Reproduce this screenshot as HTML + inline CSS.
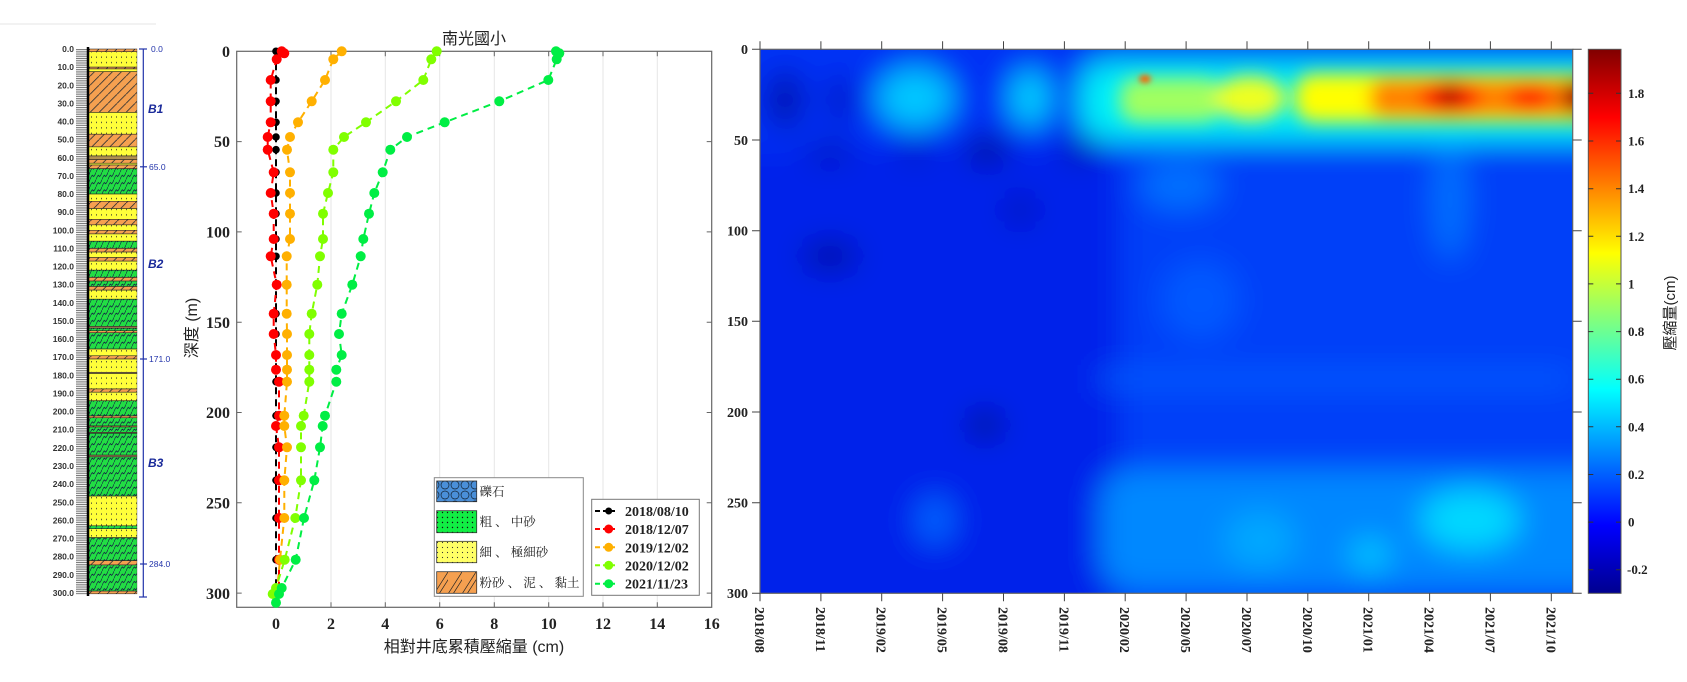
<!DOCTYPE html>
<html><head><meta charset="utf-8"><style>
html,body{margin:0;padding:0;background:#fff;}
svg{display:block;}
.tk{font-family:"Liberation Serif",serif;font-weight:bold;fill:#222;}
.lb{font-family:"Liberation Sans","Noto Sans CJK TC",sans-serif;fill:#222;}
</style></head><body>
<svg width="1687" height="682" viewBox="0 0 1687 682" xmlns="http://www.w3.org/2000/svg">
<defs>
<pattern id="pY" width="5" height="3" patternUnits="userSpaceOnUse"><rect width="5" height="3" fill="#ffff3a"/><circle cx="1.5" cy="1.5" r="0.45" fill="#333"/></pattern>
<pattern id="pG" width="6" height="4" patternUnits="userSpaceOnUse"><rect width="6" height="4" fill="#22dd44"/><path d="M0 4 Q2 1 3 2 T6 0" stroke="#114" stroke-width="0.5" fill="none"/></pattern>
<pattern id="pO" width="9" height="5" patternUnits="userSpaceOnUse"><rect width="9" height="5" fill="#f5a050"/><path d="M0 5 L9 0" stroke="#333" stroke-width="0.6"/></pattern>
<pattern id="pR" width="14" height="1" patternUnits="userSpaceOnUse"><rect width="14" height="1" fill="#fff"/><rect width="14" height="0.45" fill="#666"/></pattern>
<pattern id="lgB" width="10" height="10" patternUnits="userSpaceOnUse"><rect width="10" height="10" fill="#4a8fd8"/><circle cx="5" cy="5" r="4" fill="none" stroke="#123" stroke-width="0.7"/></pattern>
<pattern id="lgG" width="5" height="5" patternUnits="userSpaceOnUse"><rect width="5" height="5" fill="#11ee44"/><circle cx="2.5" cy="2.5" r="0.7" fill="#111"/></pattern>
<pattern id="lgY" width="5" height="5" patternUnits="userSpaceOnUse"><rect width="5" height="5" fill="#ffff66"/><circle cx="2.5" cy="2.5" r="0.6" fill="#333"/></pattern>
<pattern id="lgO" width="14" height="22" patternUnits="userSpaceOnUse"><rect width="14" height="22" fill="#f5a050"/><path d="M0 22 L14 0" stroke="#222" stroke-width="0.7"/><path d="M5 22 L19 0" stroke="#222" stroke-width="0.7"/></pattern>
<linearGradient id="jet" x1="0" y1="0" x2="0" y2="1">
<stop offset="0" stop-color="#800000"/><stop offset="0.125" stop-color="#ff0000"/><stop offset="0.375" stop-color="#ffff00"/><stop offset="0.625" stop-color="#00ffff"/><stop offset="0.875" stop-color="#0000ff"/><stop offset="1" stop-color="#00008f"/>
</linearGradient>
<clipPath id="hmc"><rect x="760" y="49.3" width="812.7" height="544"/></clipPath>
<filter id="bl" filterUnits="userSpaceOnUse" x="680" y="0" width="1000" height="682"><feGaussianBlur stdDeviation="15"/></filter>
<filter id="bl3" filterUnits="userSpaceOnUse" x="680" y="0" width="1000" height="682"><feGaussianBlur stdDeviation="9"/></filter>
<filter id="bl2" filterUnits="userSpaceOnUse" x="1100" y="50" width="100" height="80"><feGaussianBlur stdDeviation="3"/></filter>
</defs>

<line x1="0" y1="24" x2="156" y2="24" stroke="#e4e4e4" stroke-width="1"/>

<!-- Lithology column -->
<g transform="translate(0,49) scale(1,1.813)">
<rect x="76" y="0" width="12" height="301" fill="url(#pR)"/>
<g stroke="#222" stroke-width="0.3">
<rect x="88" y="0" width="49" height="1.5" fill="url(#pO)"/>
<rect x="88" y="1.5" width="49" height="8.5" fill="url(#pY)"/>
<rect x="88" y="10" width="49" height="1" fill="url(#pO)"/>
<rect x="88" y="11" width="49" height="1.5" fill="url(#pY)"/>
<rect x="88" y="12.5" width="49" height="22.5" fill="url(#pO)"/>
<rect x="88" y="35" width="49" height="12" fill="url(#pY)"/>
<rect x="88" y="47" width="49" height="7" fill="url(#pO)"/>
<rect x="88" y="54" width="49" height="5" fill="url(#pY)"/>
<rect x="88" y="59" width="49" height="2" fill="#b09050"/>
<rect x="88" y="61" width="49" height="2" fill="url(#pO)"/>
<rect x="88" y="63" width="49" height="1" fill="url(#pY)"/>
<rect x="88" y="64" width="49" height="2" fill="url(#pO)"/>
<rect x="88" y="66" width="49" height="14" fill="url(#pG)"/>
<rect x="88" y="80" width="49" height="4" fill="url(#pY)"/>
<rect x="88" y="84" width="49" height="4" fill="url(#pO)"/>
<rect x="88" y="88" width="49" height="6" fill="url(#pY)"/>
<rect x="88" y="94" width="49" height="3" fill="url(#pO)"/>
<rect x="88" y="97" width="49" height="3" fill="url(#pY)"/>
<rect x="88" y="100" width="49" height="2" fill="url(#pO)"/>
<rect x="88" y="102" width="49" height="4" fill="url(#pY)"/>
<rect x="88" y="106" width="49" height="4" fill="url(#pG)"/>
<rect x="88" y="110" width="49" height="2" fill="url(#pO)"/>
<rect x="88" y="112" width="49" height="3" fill="url(#pY)"/>
<rect x="88" y="115" width="49" height="2" fill="url(#pO)"/>
<rect x="88" y="117" width="49" height="5" fill="url(#pY)"/>
<rect x="88" y="122" width="49" height="4" fill="url(#pG)"/>
<rect x="88" y="126" width="49" height="2" fill="url(#pO)"/>
<rect x="88" y="128" width="49" height="3" fill="url(#pG)"/>
<rect x="88" y="131" width="49" height="2" fill="url(#pO)"/>
<rect x="88" y="133" width="49" height="5" fill="url(#pY)"/>
<rect x="88" y="138" width="49" height="15" fill="url(#pG)"/>
<rect x="88" y="153" width="49" height="1" fill="#a08050"/>
<rect x="88" y="154" width="49" height="1.4" fill="url(#pG)"/>
<rect x="88" y="155.4" width="49" height="1.1" fill="url(#pO)"/>
<rect x="88" y="156.5" width="49" height="9" fill="url(#pG)"/>
<rect x="88" y="165.5" width="49" height="3.7" fill="url(#pY)"/>
<rect x="88" y="169.2" width="49" height="1.8" fill="url(#pO)"/>
<rect x="88" y="171" width="49" height="7.3" fill="url(#pY)"/>
<rect x="88" y="178.3" width="49" height="0.7" fill="#a08050"/>
<rect x="88" y="179" width="49" height="8.5" fill="url(#pY)"/>
<rect x="88" y="187.5" width="49" height="1.8" fill="url(#pO)"/>
<rect x="88" y="189.3" width="49" height="4.7" fill="url(#pY)"/>
<rect x="88" y="194" width="49" height="8.4" fill="url(#pG)"/>
<rect x="88" y="202.4" width="49" height="1" fill="url(#pO)"/>
<rect x="88" y="203.4" width="49" height="4.5" fill="url(#pG)"/>
<rect x="88" y="207.9" width="49" height="0.6" fill="url(#pO)"/>
<rect x="88" y="208.5" width="49" height="2.9" fill="url(#pG)"/>
<rect x="88" y="211.4" width="49" height="0.6" fill="#806040"/>
<rect x="88" y="212" width="49" height="12" fill="url(#pG)"/>
<rect x="88" y="224" width="49" height="1" fill="#a08050"/>
<rect x="88" y="225" width="49" height="21.6" fill="url(#pG)"/>
<rect x="88" y="246.6" width="49" height="16.4" fill="url(#pY)"/>
<rect x="88" y="263" width="49" height="1.6" fill="url(#pG)"/>
<rect x="88" y="264.6" width="49" height="4.9" fill="url(#pY)"/>
<rect x="88" y="269.5" width="49" height="12.7" fill="url(#pG)"/>
<rect x="88" y="282.2" width="49" height="2.4" fill="url(#pO)"/>
<rect x="88" y="284.6" width="49" height="14.4" fill="url(#pG)"/>
<rect x="88" y="299" width="49" height="1.5" fill="url(#pO)"/>
</g>
</g>
<line x1="88" y1="47" x2="88" y2="596" stroke="#000" stroke-width="2.5"/>
<g class="tk" style="font-family:'Liberation Sans',sans-serif;font-size:8.5px;fill:#333" text-anchor="end">
<text x="74" y="52">0.0</text><text x="74" y="70">10.0</text><text x="74" y="88.3">20.0</text><text x="74" y="106.4">30.0</text><text x="74" y="124.5">40.0</text><text x="74" y="142.7">50.0</text><text x="74" y="160.8">60.0</text><text x="74" y="178.9">70.0</text><text x="74" y="197">80.0</text><text x="74" y="215.2">90.0</text><text x="74" y="233.3">100.0</text><text x="74" y="251.4">110.0</text><text x="74" y="269.6">120.0</text><text x="74" y="287.7">130.0</text><text x="74" y="305.8">140.0</text><text x="74" y="323.9">150.0</text><text x="74" y="342.1">160.0</text><text x="74" y="360.2">170.0</text><text x="74" y="378.3">180.0</text><text x="74" y="396.5">190.0</text><text x="74" y="414.6">200.0</text><text x="74" y="432.7">210.0</text><text x="74" y="450.9">220.0</text><text x="74" y="469">230.0</text><text x="74" y="487.1">240.0</text><text x="74" y="505.3">250.0</text><text x="74" y="523.4">260.0</text><text x="74" y="541.5">270.0</text><text x="74" y="559.6">280.0</text><text x="74" y="577.8">290.0</text><text x="74" y="595.9">300.0</text>
</g>
<g stroke="#2233aa" stroke-width="1.2">
<line x1="143.3" y1="49" x2="143.3" y2="597"/>
<line x1="139" y1="49" x2="147" y2="49"/><line x1="140" y1="166.8" x2="147" y2="166.8"/><line x1="140" y1="359" x2="147" y2="359"/><line x1="140" y1="564" x2="147" y2="564"/><line x1="139" y1="597" x2="147" y2="597"/>
</g>
<g style="font-family:'Liberation Sans',sans-serif;font-size:8.5px;fill:#2233aa">
<text x="151" y="52">0.0</text><text x="149" y="169.8">65.0</text><text x="149" y="362">171.0</text><text x="149" y="567">284.0</text>
</g>
<g style="font-family:'Liberation Sans',sans-serif;font-size:12px;font-weight:bold;font-style:italic;fill:#1a2a9a">
<text x="148" y="113">B1</text><text x="148" y="268">B2</text><text x="148" y="467">B3</text>
</g>

<!-- Left chart -->
<g stroke="#e6e6e6" stroke-width="1">
<line x1="276" y1="51.3" x2="276" y2="607.3"/><line x1="331" y1="51.3" x2="331" y2="607.3"/><line x1="385.3" y1="51.3" x2="385.3" y2="607.3"/><line x1="439.7" y1="51.3" x2="439.7" y2="607.3"/><line x1="494.3" y1="51.3" x2="494.3" y2="607.3"/><line x1="548.7" y1="51.3" x2="548.7" y2="607.3"/><line x1="603" y1="51.3" x2="603" y2="607.3"/><line x1="657.3" y1="51.3" x2="657.3" y2="607.3"/>
</g>
<rect x="236.7" y="51.3" width="475" height="556" fill="none" stroke="#666" stroke-width="1.2"/>
<g stroke="#666" stroke-width="1">
<path d="M276 607.3v-5M331 607.3v-5M385.3 607.3v-5M439.7 607.3v-5M494.3 607.3v-5M548.7 607.3v-5M603 607.3v-5M657.3 607.3v-5M276 51.3v5M331 51.3v5M385.3 51.3v5M439.7 51.3v5M494.3 51.3v5M548.7 51.3v5M603 51.3v5M657.3 51.3v5"/>
<path d="M236.7 141.6h5M236.7 231.9h5M236.7 322.2h5M236.7 412.5h5M236.7 502.8h5M236.7 593.1h5M711.7 141.6h-5M711.7 231.9h-5M711.7 322.2h-5M711.7 412.5h-5M711.7 502.8h-5M711.7 593.1h-5"/>
</g>
<g class="tk" style="font-size:16px" text-anchor="end">
<text x="230" y="57">0</text><text x="230" y="147">50</text><text x="230" y="237.5">100</text><text x="230" y="328">150</text><text x="230" y="418">200</text><text x="230" y="508.5">250</text><text x="230" y="599">300</text>
</g>
<g class="tk" style="font-size:16px" text-anchor="middle">
<text x="276" y="629">0</text><text x="331" y="629">2</text><text x="385.3" y="629">4</text><text x="439.7" y="629">6</text><text x="494.3" y="629">8</text><text x="548.7" y="629">10</text><text x="603" y="629">12</text><text x="657.3" y="629">14</text><text x="711.7" y="629">16</text>
</g>
<text class="lb" x="474" y="44" text-anchor="middle" style="font-size:16px">南光國小</text>
<text class="lb" x="474" y="652" text-anchor="middle" style="font-size:16px">相對井底累積壓縮量 (cm)</text>
<text class="lb" transform="translate(197,328) rotate(-90)" text-anchor="middle" style="font-size:16px">深度 (m)</text>

<g fill="none" stroke-width="2" stroke-dasharray="7,5">
<polyline stroke="#000" points="276,51.3 276,59.3 276,80 276,101.3 276,122.3 276,137 276,149.7 276,172.3 276,193 276,213.7 276,239 276,256.3 276,284.7 276,313.7 276,334 276,355 276,369.7 276,381.7 276,415.7 276,426 276,447.3 276,480.3 276,518 276,559.7 276,594 276,602.7"/>
<polyline stroke="#ff0000" points="281.7,51.3 284.3,53.3 276.7,59.3 270.7,80 270.7,101.3 270.7,122.3 267.7,137 267.7,149.7 273.7,172.3 270.7,193 273.7,213.7 273.7,239 270.7,256.3 276.7,284.7 273.7,313.7 273.7,334 276,355 276,369.7 279,381.7 279,415.7 276,426 279,447.3 279,480.3 279,518 279,559.7 279,594"/>
<polyline stroke="#ffb000" points="341.7,51.3 333.3,59.3 325,80 311.7,101.3 298,122.3 290,137 287,149.7 290,172.3 290,193 290,213.7 290,239 286.7,256.3 286.7,284.7 286.7,313.7 287,334 287,355 287,369.7 287,381.7 284.3,415.7 284.3,426 287,447.3 284.3,480.3 284.3,518 280,559.7 276.7,594"/>
<polyline stroke="#80ff00" points="436.7,51.3 431.3,59.3 423.3,80 396,101.3 366,122.3 344,137 333.3,149.7 333.3,172.3 328,193 323,213.7 323,239 320,256.3 317.3,284.7 311.7,313.7 309.3,334 309.3,355 309.3,369.7 309.3,381.7 303.7,415.7 301,426 301,447.3 301,480.3 295.3,518 284.7,559.7 276,588 272.7,594"/>
<polyline stroke="#00ee44" points="556,51.3 559.3,53.3 556.7,59.3 548.3,80 499.3,101.3 444.7,122.3 407,137 390.3,149.7 382.7,172.3 374.3,193 369,213.7 363.3,239 360.7,256.3 352.3,284.7 341.7,313.7 339,334 341.7,355 336.3,369.7 336.3,381.7 325,415.7 322.7,426 320,447.3 314.3,480.3 304,518 295.7,559.7 281.7,588 279,594 276,602.7"/>
</g>
<g fill="#000">
<circle cx="276" cy="51.3" r="3.8"/><circle cx="276" cy="59.3" r="3.8"/><circle cx="276" cy="80" r="3.8"/><circle cx="276" cy="101.3" r="3.8"/><circle cx="276" cy="122.3" r="3.8"/><circle cx="276" cy="137" r="3.8"/><circle cx="276" cy="149.7" r="3.8"/><circle cx="276" cy="172.3" r="3.8"/><circle cx="276" cy="193" r="3.8"/><circle cx="276" cy="213.7" r="3.8"/><circle cx="276" cy="239" r="3.8"/><circle cx="276" cy="256.3" r="3.8"/><circle cx="276" cy="284.7" r="3.8"/><circle cx="276" cy="313.7" r="3.8"/><circle cx="276" cy="334" r="3.8"/><circle cx="276" cy="355" r="3.8"/><circle cx="276" cy="369.7" r="3.8"/><circle cx="276" cy="381.7" r="3.8"/><circle cx="276" cy="415.7" r="3.8"/><circle cx="276" cy="426" r="3.8"/><circle cx="276" cy="447.3" r="3.8"/><circle cx="276" cy="480.3" r="3.8"/><circle cx="276" cy="518" r="3.8"/><circle cx="276" cy="559.7" r="3.8"/><circle cx="276" cy="594" r="3.8"/>
</g>
<g fill="#ff0000">
<circle cx="281.7" cy="51.3" r="5"/><circle cx="284.3" cy="53.3" r="5"/><circle cx="276.7" cy="59.3" r="5"/><circle cx="270.7" cy="80" r="5"/><circle cx="270.7" cy="101.3" r="5"/><circle cx="270.7" cy="122.3" r="5"/><circle cx="267.7" cy="137" r="5"/><circle cx="267.7" cy="149.7" r="5"/><circle cx="273.7" cy="172.3" r="5"/><circle cx="270.7" cy="193" r="5"/><circle cx="273.7" cy="213.7" r="5"/><circle cx="273.7" cy="239" r="5"/><circle cx="270.7" cy="256.3" r="5"/><circle cx="276.7" cy="284.7" r="5"/><circle cx="273.7" cy="313.7" r="5"/><circle cx="273.7" cy="334" r="5"/><circle cx="276" cy="355" r="5"/><circle cx="276" cy="369.7" r="5"/><circle cx="279" cy="381.7" r="5"/><circle cx="279" cy="415.7" r="5"/><circle cx="276" cy="426" r="5"/><circle cx="279" cy="447.3" r="5"/><circle cx="279" cy="480.3" r="5"/><circle cx="279" cy="518" r="5"/><circle cx="279" cy="559.7" r="5"/>
</g>
<g fill="#ffb000">
<circle cx="341.7" cy="51.3" r="5"/><circle cx="333.3" cy="59.3" r="5"/><circle cx="325" cy="80" r="5"/><circle cx="311.7" cy="101.3" r="5"/><circle cx="298" cy="122.3" r="5"/><circle cx="290" cy="137" r="5"/><circle cx="287" cy="149.7" r="5"/><circle cx="290" cy="172.3" r="5"/><circle cx="290" cy="193" r="5"/><circle cx="290" cy="213.7" r="5"/><circle cx="290" cy="239" r="5"/><circle cx="286.7" cy="256.3" r="5"/><circle cx="286.7" cy="284.7" r="5"/><circle cx="286.7" cy="313.7" r="5"/><circle cx="287" cy="334" r="5"/><circle cx="287" cy="355" r="5"/><circle cx="287" cy="369.7" r="5"/><circle cx="287" cy="381.7" r="5"/><circle cx="284.3" cy="415.7" r="5"/><circle cx="284.3" cy="426" r="5"/><circle cx="287" cy="447.3" r="5"/><circle cx="284.3" cy="480.3" r="5"/><circle cx="284.3" cy="518" r="5"/><circle cx="280" cy="559.7" r="5"/>
</g>
<g fill="#80ff00">
<circle cx="436.7" cy="51.3" r="5"/><circle cx="431.3" cy="59.3" r="5"/><circle cx="423.3" cy="80" r="5"/><circle cx="396" cy="101.3" r="5"/><circle cx="366" cy="122.3" r="5"/><circle cx="344" cy="137" r="5"/><circle cx="333.3" cy="149.7" r="5"/><circle cx="333.3" cy="172.3" r="5"/><circle cx="328" cy="193" r="5"/><circle cx="323" cy="213.7" r="5"/><circle cx="323" cy="239" r="5"/><circle cx="320" cy="256.3" r="5"/><circle cx="317.3" cy="284.7" r="5"/><circle cx="311.7" cy="313.7" r="5"/><circle cx="309.3" cy="334" r="5"/><circle cx="309.3" cy="355" r="5"/><circle cx="309.3" cy="369.7" r="5"/><circle cx="309.3" cy="381.7" r="5"/><circle cx="303.7" cy="415.7" r="5"/><circle cx="301" cy="426" r="5"/><circle cx="301" cy="447.3" r="5"/><circle cx="301" cy="480.3" r="5"/><circle cx="295.3" cy="518" r="5"/><circle cx="284.7" cy="559.7" r="5"/><circle cx="276" cy="588" r="5"/><circle cx="272.7" cy="594" r="5"/>
</g>
<g fill="#00ee44">
<circle cx="556" cy="51.3" r="5"/><circle cx="559.3" cy="53.3" r="5"/><circle cx="556.7" cy="59.3" r="5"/><circle cx="548.3" cy="80" r="5"/><circle cx="499.3" cy="101.3" r="5"/><circle cx="444.7" cy="122.3" r="5"/><circle cx="407" cy="137" r="5"/><circle cx="390.3" cy="149.7" r="5"/><circle cx="382.7" cy="172.3" r="5"/><circle cx="374.3" cy="193" r="5"/><circle cx="369" cy="213.7" r="5"/><circle cx="363.3" cy="239" r="5"/><circle cx="360.7" cy="256.3" r="5"/><circle cx="352.3" cy="284.7" r="5"/><circle cx="341.7" cy="313.7" r="5"/><circle cx="339" cy="334" r="5"/><circle cx="341.7" cy="355" r="5"/><circle cx="336.3" cy="369.7" r="5"/><circle cx="336.3" cy="381.7" r="5"/><circle cx="325" cy="415.7" r="5"/><circle cx="322.7" cy="426" r="5"/><circle cx="320" cy="447.3" r="5"/><circle cx="314.3" cy="480.3" r="5"/><circle cx="304" cy="518" r="5"/><circle cx="295.7" cy="559.7" r="5"/><circle cx="281.7" cy="588" r="5"/><circle cx="279" cy="594" r="5"/><circle cx="276" cy="602.7" r="5"/>
</g>

<!-- Lithology legend -->
<rect x="434.3" y="477.7" width="149" height="118.6" fill="#fff" stroke="#888" stroke-width="1"/>
<rect x="436.7" y="481" width="40" height="20.7" fill="url(#lgB)" stroke="#333" stroke-width="0.8"/>
<rect x="436.7" y="510.7" width="40" height="22" fill="url(#lgG)" stroke="#333" stroke-width="0.8"/>
<rect x="436.7" y="541.3" width="40" height="21.4" fill="url(#lgY)" stroke="#333" stroke-width="0.8"/>
<rect x="436.7" y="571.7" width="40" height="21.6" fill="url(#lgO)" stroke="#333" stroke-width="0.8"/>
<g style="font-family:'Liberation Serif','Noto Serif CJK SC',serif;font-size:12.5px;fill:#222">
<text x="479.5" y="496">礫石</text><text x="479.5" y="526">粗 、 中砂</text><text x="479.5" y="556.5">細 、 極細砂</text><text x="479.5" y="587">粉砂 、 泥 、 黏土</text>
</g>

<!-- Date legend -->
<rect x="591.7" y="499.3" width="107.6" height="96" fill="#fff" stroke="#777" stroke-width="1"/>
<g stroke-width="2" stroke-dasharray="5,3">
<line x1="595" y1="511" x2="615" y2="511" stroke="#000"/><line x1="595" y1="529" x2="615" y2="529" stroke="#f00"/><line x1="595" y1="547.3" x2="615" y2="547.3" stroke="#ffb000"/><line x1="595" y1="565.3" x2="615" y2="565.3" stroke="#80ff00"/><line x1="595" y1="583.7" x2="615" y2="583.7" stroke="#00ee44"/>
</g>
<circle cx="608.7" cy="511" r="3.5" fill="#000"/><circle cx="608.7" cy="529" r="4.5" fill="#f00"/><circle cx="608.7" cy="547.3" r="4.5" fill="#ffb000"/><circle cx="608.7" cy="565.3" r="4.5" fill="#80ff00"/><circle cx="608.7" cy="583.7" r="4.5" fill="#00ee44"/>
<g class="tk" style="font-size:14px">
<text x="625" y="516">2018/08/10</text><text x="625" y="534">2018/12/07</text><text x="625" y="552.3">2019/12/02</text><text x="625" y="570.3">2020/12/02</text><text x="625" y="588.7">2021/11/23</text>
</g>

<!-- Heatmap -->
<g clip-path="url(#hmc)">
<g filter="url(#bl)">
<rect x="700" y="0" width="960" height="682" fill="#0030f5"/>
<rect x="700" y="150" width="420" height="500" fill="#0020ea"/>
<rect x="1120" y="150" width="540" height="500" fill="#0040f8"/>
<ellipse cx="785" cy="100" rx="18" ry="30" fill="#0010b0"/>
<ellipse cx="840" cy="100" rx="14" ry="25" fill="#0018c8"/>
<ellipse cx="915" cy="98" rx="38" ry="30" fill="#00c8ff"/>
<ellipse cx="1030" cy="98" rx="20" ry="28" fill="#00d0ff"/>
<rect x="1080" y="62" width="600" height="78" rx="25" fill="#00f0f8"/>
<ellipse cx="830" cy="152" rx="25" ry="10" fill="#0008b8"/>
<ellipse cx="915" cy="152" rx="20" ry="9" fill="#0008c0"/>
<ellipse cx="987" cy="150" rx="22" ry="12" fill="#000080"/>
<ellipse cx="1080" cy="150" rx="20" ry="12" fill="#0008b0"/>
<ellipse cx="830" cy="256" rx="28" ry="14" fill="#000aa0"/>
<ellipse cx="1020" cy="210" rx="16" ry="14" fill="#0008b8"/>
<ellipse cx="985" cy="425" rx="16" ry="12" fill="#000070"/>
<ellipse cx="1180" cy="185" rx="40" ry="25" fill="#0070ff"/>
<ellipse cx="1450" cy="200" rx="18" ry="60" fill="#0070ff"/>
<ellipse cx="1200" cy="300" rx="40" ry="40" fill="#0058ff"/>
<rect x="1100" y="372" width="470" height="14" fill="#0060ff"/>
<rect x="1100" y="470" width="560" height="120" rx="30" fill="#0088ff"/>
<ellipse cx="1470" cy="520" rx="50" ry="30" fill="#00d8ff"/>
<ellipse cx="1370" cy="555" rx="20" ry="16" fill="#00c8ff"/>
<ellipse cx="1260" cy="540" rx="35" ry="28" fill="#00a8ff"/>
<ellipse cx="935" cy="520" rx="20" ry="25" fill="#0060ff"/>
<rect x="700" y="0" width="960" height="58" fill="#0030f5"/>
</g>
<g filter="url(#bl3)">
<rect x="1120" y="78" width="100" height="44" rx="16" fill="#a0ff60"/>
<ellipse cx="1250" cy="98" rx="36" ry="22" fill="#eeff20"/>
<rect x="1295" y="74" width="400" height="48" rx="18" fill="#ffff00"/>
<rect x="1370" y="80" width="320" height="36" rx="14" fill="#ff8000"/>
<ellipse cx="1450" cy="97" rx="30" ry="18" fill="#ff1000"/>
<ellipse cx="1450" cy="96" rx="10" ry="10" fill="#900000"/>
<ellipse cx="1530" cy="97" rx="22" ry="14" fill="#ff2000"/>
<ellipse cx="1580" cy="97" rx="18" ry="18" fill="#a00000"/>
</g>
<ellipse cx="1145" cy="79" rx="6" ry="4" fill="#ff6000" filter="url(#bl2)"/>
</g>
<rect x="760" y="49.3" width="812.7" height="544" fill="none" stroke="#666" stroke-width="1.2"/>
<g stroke="#444" stroke-width="1">
<path d="M760 593.3v8M820.9 593.3v8M881.7 593.3v8M942.6 593.3v8M1003.5 593.3v8M1064.4 593.3v8M1125.2 593.3v8M1186.1 593.3v8M1247 593.3v8M1307.8 593.3v8M1368.7 593.3v8M1429.6 593.3v8M1490.4 593.3v8M1551.3 593.3v8"/>
<path d="M760 49.3v-8M820.9 49.3v-8M881.7 49.3v-8M942.6 49.3v-8M1003.5 49.3v-8M1064.4 49.3v-8M1125.2 49.3v-8M1186.1 49.3v-8M1247 49.3v-8M1307.8 49.3v-8M1368.7 49.3v-8M1429.6 49.3v-8M1490.4 49.3v-8M1551.3 49.3v-8"/>
<path d="M760 49.3h-8M760 140h-8M760 230.7h-8M760 321.3h-8M760 412h-8M760 502.7h-8M760 593.3h-8"/>
<path d="M1572.7 49.3h9M1572.7 140h9M1572.7 230.7h9M1572.7 321.3h9M1572.7 412h9M1572.7 502.7h9M1572.7 593.3h9"/>
</g>
<g class="tk" style="font-size:14px" text-anchor="end">
<text x="748" y="54">0</text><text x="748" y="145">50</text><text x="748" y="235.5">100</text><text x="748" y="326">150</text><text x="748" y="417">200</text><text x="748" y="507.5">250</text><text x="748" y="598">300</text>
</g>
<g class="tk" style="font-size:14px">
<text transform="translate(755,607) rotate(90)">2018/08</text>
<text transform="translate(815.9,607) rotate(90)">2018/11</text>
<text transform="translate(876.7,607) rotate(90)">2019/02</text>
<text transform="translate(937.6,607) rotate(90)">2019/05</text>
<text transform="translate(998.5,607) rotate(90)">2019/08</text>
<text transform="translate(1059.4,607) rotate(90)">2019/11</text>
<text transform="translate(1120.2,607) rotate(90)">2020/02</text>
<text transform="translate(1181.1,607) rotate(90)">2020/05</text>
<text transform="translate(1242,607) rotate(90)">2020/07</text>
<text transform="translate(1302.8,607) rotate(90)">2020/10</text>
<text transform="translate(1363.7,607) rotate(90)">2021/01</text>
<text transform="translate(1424.6,607) rotate(90)">2021/04</text>
<text transform="translate(1485.4,607) rotate(90)">2021/07</text>
<text transform="translate(1546.3,607) rotate(90)">2021/10</text>
</g>

<!-- Colorbar -->
<rect x="1588.3" y="49.3" width="32.7" height="544" fill="url(#jet)" stroke="#555" stroke-width="1"/>
<g stroke="#333" stroke-width="1">
<path d="M1621 569.7h-5M1621 522.1h-5M1621 474.5h-5M1621 426.8h-5M1621 379.2h-5M1621 331.6h-5M1621 283.9h-5M1621 236.3h-5M1621 188.7h-5M1621 141h-5M1621 93.3h-5"/>
<path d="M1588.3 569.7h5M1588.3 522.1h5M1588.3 474.5h5M1588.3 426.8h5M1588.3 379.2h5M1588.3 331.6h5M1588.3 283.9h5M1588.3 236.3h5M1588.3 188.7h5M1588.3 141h5M1588.3 93.3h5"/>
</g>
<g class="tk" style="font-size:13px">
<text x="1627" y="574">-0.2</text><text x="1628" y="526.5">0</text><text x="1628" y="479">0.2</text><text x="1628" y="431.3">0.4</text><text x="1628" y="383.7">0.6</text><text x="1628" y="336">0.8</text><text x="1628" y="288.4">1</text><text x="1628" y="240.8">1.2</text><text x="1628" y="193.2">1.4</text><text x="1628" y="145.5">1.6</text><text x="1628" y="97.8">1.8</text>
</g>
<text class="lb" transform="translate(1675,313) rotate(-90)" text-anchor="middle" style="font-size:15px">壓縮量(cm)</text>
</svg>
</body></html>
